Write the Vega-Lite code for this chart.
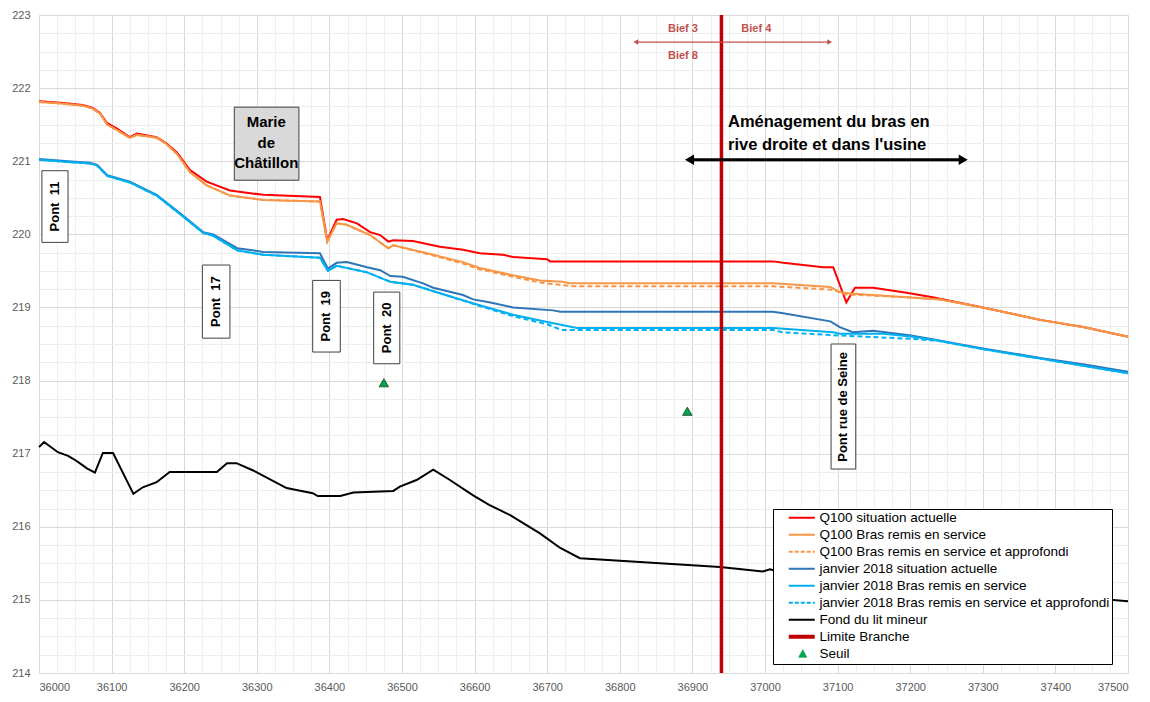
{
  "$schema": "https://vega.github.io/schema/vega-lite/v6.json",
  "width": 1089,
  "height": 658,
  "autosize": {"type": "none"},
  "padding": {"left": 39, "top": 15, "right": 22, "bottom": 29},
  "background": "white",
  "config": {"view": {"stroke": null}, "font": "Liberation Sans"},
  "layer": [
    {
      "data": {"values": [
        {"pk":36000,"z":221.82},{"pk":36030,"z":221.8},{"pk":36060,"z":221.77},{"pk":36074,"z":221.73},{"pk":36084,"z":221.66},{"pk":36094,"z":221.52},{"pk":36107,"z":221.45},{"pk":36125,"z":221.33},{"pk":36135,"z":221.38},{"pk":36162,"z":221.33},{"pk":36175,"z":221.25},{"pk":36190,"z":221.12},{"pk":36208,"z":220.88},{"pk":36231,"z":220.72},{"pk":36263,"z":220.6},{"pk":36309,"z":220.54},{"pk":36387,"z":220.51},{"pk":36397,"z":219.92},{"pk":36410,"z":220.2},{"pk":36419,"z":220.21},{"pk":36438,"z":220.15},{"pk":36456,"z":220.03},{"pk":36470,"z":219.99},{"pk":36481,"z":219.9},{"pk":36488,"z":219.92},{"pk":36515,"z":219.91},{"pk":36552,"z":219.83},{"pk":36584,"z":219.79},{"pk":36607,"z":219.74},{"pk":36639,"z":219.72},{"pk":36653,"z":219.69},{"pk":36700,"z":219.66},{"pk":36704,"z":219.63},{"pk":37011,"z":219.63},{"pk":37025,"z":219.61},{"pk":37080,"z":219.55},{"pk":37094,"z":219.55},{"pk":37112,"z":219.07},{"pk":37124,"z":219.27},{"pk":37149,"z":219.27},{"pk":37195,"z":219.2},{"pk":37231,"z":219.14},{"pk":37300,"z":219.0},{"pk":37379,"z":218.83},{"pk":37440,"z":218.73},{"pk":37500,"z":218.6}
      ]},
      "mark": {"type": "line", "strokeWidth": 2},
      "encoding": {
        "x": {"field": "pk", "type": "quantitative", "scale": {"domain": [36000, 37500], "nice": false, "zero": false},
          "axis": {"orient": "bottom", "values": [36000,36025,36050,36075,36100,36125,36150,36175,36200,36225,36250,36275,36300,36325,36350,36375,36400,36425,36450,36475,36500,36525,36550,36575,36600,36625,36650,36675,36700,36725,36750,36775,36800,36825,36850,36875,36900,36925,36950,36975,37000,37025,37050,37075,37100,37125,37150,37175,37200,37225,37250,37275,37300,37325,37350,37375,37400,37425,37450,37475,37500],
            "grid": true, "gridColor": "#eeeeee", "gridWidth": 1, "labels": false, "ticks": false, "domain": false, "title": null}},
        "y": {"field": "z", "type": "quantitative", "scale": {"domain": [214, 223], "nice": false, "zero": false},
          "axis": {"orient": "left", "values": [214,214.25,214.5,214.75,215,215.25,215.5,215.75,216,216.25,216.5,216.75,217,217.25,217.5,217.75,218,218.25,218.5,218.75,219,219.25,219.5,219.75,220,220.25,220.5,220.75,221,221.25,221.5,221.75,222,222.25,222.5,222.75,223],
            "grid": true, "gridColor": "#eeeeee", "gridWidth": 1, "labels": false, "ticks": false, "domain": false, "title": null}},
        "color": {"datum": "Q100 situation actuelle", "type": "nominal",
          "scale": {
            "domain": ["Q100 situation actuelle","Q100 Bras remis en service","Q100 Bras remis en service et approfondi","janvier 2018 situation actuelle","janvier 2018 Bras remis en service","janvier 2018 Bras remis en service et approfondi","Fond du lit mineur","Limite Branche","Seuil"],
            "range": ["#ff0000","#f79646","#f79646","#2e75b6","#00b0f0","#00b0f0","#000000","#c00000","#00a651"]
          },
          "legend": {
            "orient": "none", "legendX": 734, "legendY": 494, "title": null,
            "symbolType": "M1.4,-1.3M1.4,1.3M1.4,0H6.6", "symbolSize": 100, "symbolStrokeWidth": 2,
            "labelFont": "Liberation Sans", "labelFontSize": 13.5, "labelColor": "#000000", "labelOffset": 31, "labelLimit": 500,
            "rowPadding": 1, "padding": 2, "strokeColor": "#000000", "fillColor": "#ffffff",
            "encode": {"symbols": {"update": {
              "shape": {"signal": "datum.value === 'Seuil' ? 'M4.2,-1.54M4.2,1.54M4.2,-0.8L5.0,0.7L3.4,0.7Z' : (datum.value === 'Limite Branche' ? 'M1.4,-0.9M1.4,0.9M1.4,0H6.6' : 'M1.4,-1.3M1.4,1.3M1.4,0H6.6')"},
              "strokeDash": {"signal": "indexof(datum.value, 'approfondi') >= 0 ? [4,2] : [1,0]"},
              "strokeWidth": {"signal": "datum.value === 'Limite Branche' ? 4 : (datum.value === 'Seuil' ? 0.8 : 2)"},
              "strokeJoin": {"value": "round"},
              "fill": {"signal": "datum.value === 'Seuil' ? '#00a651' : 'transparent'"},
              "stroke": {"signal": "datum.value === 'Seuil' ? '#1a3d1a' : scale('color', datum.value)"},
              "opacity": {"value": 1}
            }}}
          }
        }
      }
    },
    {
      "data": {"values": [
        {"pk":36000,"z":221.81},{"pk":36030,"z":221.79},{"pk":36060,"z":221.76},{"pk":36074,"z":221.72},{"pk":36084,"z":221.65},{"pk":36094,"z":221.5},{"pk":36107,"z":221.43},{"pk":36125,"z":221.32},{"pk":36135,"z":221.36},{"pk":36162,"z":221.32},{"pk":36175,"z":221.24},{"pk":36190,"z":221.1},{"pk":36208,"z":220.85},{"pk":36231,"z":220.67},{"pk":36263,"z":220.53},{"pk":36309,"z":220.47},{"pk":36387,"z":220.45},{"pk":36397,"z":219.9},{"pk":36410,"z":220.15},{"pk":36424,"z":220.13},{"pk":36456,"z":219.99},{"pk":36481,"z":219.81},{"pk":36488,"z":219.85},{"pk":36539,"z":219.73},{"pk":36584,"z":219.62},{"pk":36607,"z":219.54},{"pk":36653,"z":219.44},{"pk":36690,"z":219.37},{"pk":36721,"z":219.35},{"pk":36731,"z":219.33},{"pk":37011,"z":219.33},{"pk":37090,"z":219.28},{"pk":37103,"z":219.21},{"pk":37117,"z":219.19},{"pk":37195,"z":219.14},{"pk":37241,"z":219.11},{"pk":37300,"z":219.0},{"pk":37379,"z":218.83},{"pk":37440,"z":218.73},{"pk":37500,"z":218.6}
      ]},
      "mark": {"type": "line", "strokeWidth": 2},
      "encoding": {
        "x": {"field": "pk", "type": "quantitative", "scale": {"domain": [36000, 37500], "nice": false, "zero": false},
          "axis": {"orient": "bottom", "values": [36000,36100,36200,36300,36400,36500,36600,36700,36800,36900,37000,37100,37200,37300,37400,37500],
            "format": "d", "grid": true, "gridColor": "#d9d9d9", "gridWidth": 1, "ticks": false, "domain": false, "title": null,
            "labelFont": "Liberation Sans", "labelFontSize": 11, "labelColor": "#595959", "labelPadding": 8}},
        "y": {"field": "z", "type": "quantitative", "scale": {"domain": [214, 223], "nice": false, "zero": false},
          "axis": {"orient": "left", "values": [214,215,216,217,218,219,220,221,222,223],
            "format": "d", "grid": true, "gridColor": "#d9d9d9", "gridWidth": 1, "ticks": false, "domain": false, "title": null,
            "labelFont": "Liberation Sans", "labelFontSize": 11, "labelColor": "#595959", "labelPadding": 9}},
        "color": {"datum": "Q100 Bras remis en service", "type": "nominal"}
      }
    },
    {
      "data": {"values": [
        {"pk":36000,"z":221.81},{"pk":36030,"z":221.79},{"pk":36060,"z":221.76},{"pk":36074,"z":221.72},{"pk":36084,"z":221.65},{"pk":36094,"z":221.5},{"pk":36107,"z":221.43},{"pk":36125,"z":221.32},{"pk":36135,"z":221.36},{"pk":36162,"z":221.32},{"pk":36175,"z":221.24},{"pk":36190,"z":221.1},{"pk":36208,"z":220.85},{"pk":36231,"z":220.67},{"pk":36263,"z":220.53},{"pk":36309,"z":220.47},{"pk":36387,"z":220.45},{"pk":36397,"z":219.9},{"pk":36410,"z":220.15},{"pk":36424,"z":220.13},{"pk":36456,"z":219.99},{"pk":36481,"z":219.81},{"pk":36488,"z":219.85},{"pk":36539,"z":219.72},{"pk":36584,"z":219.6},{"pk":36607,"z":219.52},{"pk":36653,"z":219.42},{"pk":36690,"z":219.34},{"pk":36735,"z":219.29},{"pk":37011,"z":219.29},{"pk":37094,"z":219.24},{"pk":37110,"z":219.18},{"pk":37195,"z":219.14},{"pk":37241,"z":219.11},{"pk":37300,"z":219.0},{"pk":37379,"z":218.83},{"pk":37440,"z":218.73},{"pk":37500,"z":218.6}
      ]},
      "mark": {"type": "line", "strokeWidth": 2, "strokeDash": [5, 3]},
      "encoding": {
        "x": {"field": "pk", "type": "quantitative", "scale": {"domain": [36000, 37500], "nice": false, "zero": false}, "axis": null},
        "y": {"field": "z", "type": "quantitative", "scale": {"domain": [214, 223], "nice": false, "zero": false}, "axis": null},
        "color": {"datum": "Q100 Bras remis en service et approfondi", "type": "nominal"}
      }
    },
    {
      "data": {"values": [
        {"pk":36000,"z":221.03},{"pk":36040,"z":221.0},{"pk":36070,"z":220.98},{"pk":36080,"z":220.95},{"pk":36094,"z":220.81},{"pk":36125,"z":220.72},{"pk":36162,"z":220.54},{"pk":36194,"z":220.29},{"pk":36226,"z":220.03},{"pk":36240,"z":220.0},{"pk":36273,"z":219.81},{"pk":36309,"z":219.76},{"pk":36387,"z":219.74},{"pk":36398,"z":219.53},{"pk":36410,"z":219.61},{"pk":36424,"z":219.62},{"pk":36452,"z":219.55},{"pk":36470,"z":219.51},{"pk":36484,"z":219.43},{"pk":36501,"z":219.42},{"pk":36529,"z":219.33},{"pk":36543,"z":219.27},{"pk":36584,"z":219.17},{"pk":36598,"z":219.11},{"pk":36620,"z":219.07},{"pk":36653,"z":219.0},{"pk":36708,"z":218.96},{"pk":36718,"z":218.94},{"pk":37011,"z":218.94},{"pk":37025,"z":218.92},{"pk":37090,"z":218.81},{"pk":37103,"z":218.73},{"pk":37121,"z":218.66},{"pk":37149,"z":218.68},{"pk":37199,"z":218.62},{"pk":37223,"z":218.58},{"pk":37300,"z":218.44},{"pk":37379,"z":218.31},{"pk":37440,"z":218.22},{"pk":37500,"z":218.12}
      ]},
      "mark": {"type": "line", "strokeWidth": 2},
      "encoding": {
        "x": {"field": "pk", "type": "quantitative", "scale": {"domain": [36000, 37500], "nice": false, "zero": false}, "axis": null},
        "y": {"field": "z", "type": "quantitative", "scale": {"domain": [214, 223], "nice": false, "zero": false}, "axis": null},
        "color": {"datum": "janvier 2018 situation actuelle", "type": "nominal"}
      }
    },
    {
      "data": {"values": [
        {"pk":36000,"z":221.02},{"pk":36040,"z":220.99},{"pk":36070,"z":220.97},{"pk":36080,"z":220.94},{"pk":36094,"z":220.8},{"pk":36125,"z":220.71},{"pk":36162,"z":220.53},{"pk":36194,"z":220.28},{"pk":36226,"z":220.02},{"pk":36240,"z":219.98},{"pk":36273,"z":219.78},{"pk":36309,"z":219.72},{"pk":36387,"z":219.68},{"pk":36398,"z":219.5},{"pk":36410,"z":219.57},{"pk":36452,"z":219.48},{"pk":36484,"z":219.35},{"pk":36515,"z":219.31},{"pk":36560,"z":219.17},{"pk":36607,"z":219.03},{"pk":36653,"z":218.9},{"pk":36700,"z":218.8},{"pk":36741,"z":218.72},{"pk":37011,"z":218.72},{"pk":37094,"z":218.66},{"pk":37103,"z":218.64},{"pk":37163,"z":218.64},{"pk":37204,"z":218.6},{"pk":37241,"z":218.54},{"pk":37300,"z":218.43},{"pk":37379,"z":218.3},{"pk":37440,"z":218.2},{"pk":37500,"z":218.1}
      ]},
      "mark": {"type": "line", "strokeWidth": 2},
      "encoding": {
        "x": {"field": "pk", "type": "quantitative", "scale": {"domain": [36000, 37500], "nice": false, "zero": false}, "axis": null},
        "y": {"field": "z", "type": "quantitative", "scale": {"domain": [214, 223], "nice": false, "zero": false}, "axis": null},
        "color": {"datum": "janvier 2018 Bras remis en service", "type": "nominal"}
      }
    },
    {
      "data": {"values": [
        {"pk":36000,"z":221.02},{"pk":36040,"z":220.99},{"pk":36070,"z":220.97},{"pk":36080,"z":220.94},{"pk":36094,"z":220.8},{"pk":36125,"z":220.71},{"pk":36162,"z":220.53},{"pk":36194,"z":220.28},{"pk":36226,"z":220.02},{"pk":36240,"z":219.98},{"pk":36273,"z":219.78},{"pk":36309,"z":219.72},{"pk":36387,"z":219.68},{"pk":36398,"z":219.5},{"pk":36410,"z":219.57},{"pk":36452,"z":219.48},{"pk":36484,"z":219.35},{"pk":36515,"z":219.31},{"pk":36560,"z":219.17},{"pk":36607,"z":219.02},{"pk":36653,"z":218.88},{"pk":36700,"z":218.77},{"pk":36720,"z":218.69},{"pk":37011,"z":218.69},{"pk":37025,"z":218.66},{"pk":37094,"z":218.62},{"pk":37204,"z":218.57},{"pk":37241,"z":218.54},{"pk":37300,"z":218.43},{"pk":37379,"z":218.3},{"pk":37440,"z":218.2},{"pk":37500,"z":218.1}
      ]},
      "mark": {"type": "line", "strokeWidth": 2, "strokeDash": [5, 3]},
      "encoding": {
        "x": {"field": "pk", "type": "quantitative", "scale": {"domain": [36000, 37500], "nice": false, "zero": false}, "axis": null},
        "y": {"field": "z", "type": "quantitative", "scale": {"domain": [214, 223], "nice": false, "zero": false}, "axis": null},
        "color": {"datum": "janvier 2018 Bras remis en service et approfondi", "type": "nominal"}
      }
    },
    {
      "data": {"values": [
        {"pk":36000,"z":217.09},{"pk":36007,"z":217.16},{"pk":36026,"z":217.02},{"pk":36040,"z":216.97},{"pk":36047,"z":216.93},{"pk":36056,"z":216.87},{"pk":36066,"z":216.8},{"pk":36077,"z":216.74},{"pk":36088,"z":217.01},{"pk":36102,"z":217.01},{"pk":36130,"z":216.45},{"pk":36143,"z":216.54},{"pk":36162,"z":216.61},{"pk":36180,"z":216.75},{"pk":36245,"z":216.75},{"pk":36259,"z":216.87},{"pk":36272,"z":216.87},{"pk":36295,"z":216.77},{"pk":36341,"z":216.53},{"pk":36377,"z":216.46},{"pk":36384,"z":216.42},{"pk":36415,"z":216.42},{"pk":36433,"z":216.47},{"pk":36488,"z":216.49},{"pk":36497,"z":216.55},{"pk":36520,"z":216.64},{"pk":36543,"z":216.78},{"pk":36566,"z":216.64},{"pk":36598,"z":216.43},{"pk":36620,"z":216.3},{"pk":36649,"z":216.16},{"pk":36690,"z":215.91},{"pk":36718,"z":215.71},{"pk":36745,"z":215.57},{"pk":36938,"z":215.45},{"pk":36997,"z":215.39},{"pk":37007,"z":215.42},{"pk":37020,"z":215.38},{"pk":37500,"z":214.98}
      ]},
      "mark": {"type": "line", "strokeWidth": 2},
      "encoding": {
        "x": {"field": "pk", "type": "quantitative", "scale": {"domain": [36000, 37500], "nice": false, "zero": false}, "axis": null},
        "y": {"field": "z", "type": "quantitative", "scale": {"domain": [214, 223], "nice": false, "zero": false}, "axis": null},
        "color": {"datum": "Fond du lit mineur", "type": "nominal"}
      }
    },
    {
      "data": {"values": [{"pk": 36940}]},
      "mark": {"type": "rule", "strokeWidth": 3.5},
      "encoding": {
        "x": {"field": "pk", "type": "quantitative", "scale": {"domain": [36000, 37500], "nice": false, "zero": false}, "axis": null},
        "color": {"datum": "Limite Branche", "type": "nominal"}
      }
    },
    {
      "data": {"values": [{"pk": 36475, "z": 217.97}, {"pk": 36893, "z": 217.58}]},
      "mark": {"type": "point", "shape": "triangle-up", "filled": true, "size": 90, "stroke": "#1a3d1a", "strokeWidth": 0.8, "opacity": 1},
      "encoding": {
        "x": {"field": "pk", "type": "quantitative", "scale": {"domain": [36000, 37500], "nice": false, "zero": false}, "axis": null},
        "y": {"field": "z", "type": "quantitative", "scale": {"domain": [214, 223], "nice": false, "zero": false}, "axis": null},
        "color": {"datum": "Seuil", "type": "nominal"}
      }
    },
    {
      "data": {"values": [{"pk": 36822, "z": 222.63}, {"pk": 37089, "z": 222.63}]},
      "mark": {"type": "line", "strokeWidth": 1.2, "color": "#c0504d"},
      "encoding": {
        "x": {"field": "pk", "type": "quantitative", "scale": {"domain": [36000, 37500], "nice": false, "zero": false}, "axis": null},
        "y": {"field": "z", "type": "quantitative", "scale": {"domain": [214, 223], "nice": false, "zero": false}, "axis": null}
      }
    },
    {
      "data": {"values": [{"pk": 36822, "z": 222.63, "d": "l"}, {"pk": 37089, "z": 222.63, "d": "r"}]},
      "mark": {"type": "point", "filled": true, "size": 30, "color": "#c0504d", "opacity": 1},
      "encoding": {
        "x": {"field": "pk", "type": "quantitative", "scale": {"domain": [36000, 37500], "nice": false, "zero": false}, "axis": null},
        "y": {"field": "z", "type": "quantitative", "scale": {"domain": [214, 223], "nice": false, "zero": false}, "axis": null},
        "shape": {"field": "d", "type": "nominal", "scale": {"domain": ["l", "r"], "range": ["triangle-left", "triangle-right"]}, "legend": null}
      }
    },
    {
      "data": {"values": [{"pk": 36895, "z": 221.02}, {"pk": 37274, "z": 221.02}]},
      "mark": {"type": "line", "strokeWidth": 3, "color": "#000000"},
      "encoding": {
        "x": {"field": "pk", "type": "quantitative", "scale": {"domain": [36000, 37500], "nice": false, "zero": false}, "axis": null},
        "y": {"field": "z", "type": "quantitative", "scale": {"domain": [214, 223], "nice": false, "zero": false}, "axis": null}
      }
    },
    {
      "data": {"values": [{"pk": 36896, "z": 221.02, "d": "l"}, {"pk": 37273, "z": 221.02, "d": "r"}]},
      "mark": {"type": "point", "filled": true, "size": 110, "color": "#000000", "opacity": 1},
      "encoding": {
        "x": {"field": "pk", "type": "quantitative", "scale": {"domain": [36000, 37500], "nice": false, "zero": false}, "axis": null},
        "y": {"field": "z", "type": "quantitative", "scale": {"domain": [214, 223], "nice": false, "zero": false}, "axis": null},
        "shape": {"field": "d", "type": "nominal", "scale": {"domain": ["l", "r"], "range": ["triangle-left", "triangle-right"]}, "legend": null}
      }
    },
    {
      "data": {"values": [
        {"pk": 36004, "pk2": 36040, "z": 220.87, "z2": 219.89},
        {"pk": 36225, "pk2": 36263, "z": 219.58, "z2": 218.58},
        {"pk": 36377, "pk2": 36415, "z": 219.37, "z2": 218.39},
        {"pk": 36461, "pk2": 36497, "z": 219.21, "z2": 218.23},
        {"pk": 37091, "pk2": 37125, "z": 218.5, "z2": 216.79}
      ]},
      "mark": {"type": "rect", "fill": "#ffffff", "stroke": "#404040", "strokeWidth": 1},
      "encoding": {
        "x": {"field": "pk", "type": "quantitative", "scale": {"domain": [36000, 37500], "nice": false, "zero": false}, "axis": null},
        "x2": {"field": "pk2"},
        "y": {"field": "z", "type": "quantitative", "scale": {"domain": [214, 223], "nice": false, "zero": false}, "axis": null},
        "y2": {"field": "z2"}
      }
    },
    {
      "data": {"values": [{"pk": 36269, "pk2": 36358, "z": 221.74, "z2": 220.74}]},
      "mark": {"type": "rect", "fill": "#d9d9d9", "stroke": "#404040", "strokeWidth": 1},
      "encoding": {
        "x": {"field": "pk", "type": "quantitative", "scale": {"domain": [36000, 37500], "nice": false, "zero": false}, "axis": null},
        "x2": {"field": "pk2"},
        "y": {"field": "z", "type": "quantitative", "scale": {"domain": [214, 223], "nice": false, "zero": false}, "axis": null},
        "y2": {"field": "z2"}
      }
    },
    {
      "data": {"values": [
        {"t": "Bief 3", "pk": 36887, "z": 222.81},
        {"t": "Bief 4", "pk": 36988, "z": 222.81},
        {"t": "Bief 8", "pk": 36887, "z": 222.44}
      ]},
      "mark": {"type": "text", "font": "Liberation Sans", "fontSize": 11, "fontWeight": "bold", "color": "#c0504d", "align": "center", "baseline": "middle"},
      "encoding": {
        "x": {"field": "pk", "type": "quantitative", "scale": {"domain": [36000, 37500], "nice": false, "zero": false}, "axis": null},
        "y": {"field": "z", "type": "quantitative", "scale": {"domain": [214, 223], "nice": false, "zero": false}, "axis": null},
        "text": {"field": "t"}
      }
    },
    {
      "data": {"values": [
        {"t": "Aménagement du bras en", "pk": 36949, "z": 221.54},
        {"t": "rive droite et dans l'usine", "pk": 36949, "z": 221.22}
      ]},
      "mark": {"type": "text", "font": "Liberation Sans", "fontSize": 16.5, "fontWeight": "bold", "color": "#000000", "align": "left", "baseline": "middle"},
      "encoding": {
        "x": {"field": "pk", "type": "quantitative", "scale": {"domain": [36000, 37500], "nice": false, "zero": false}, "axis": null},
        "y": {"field": "z", "type": "quantitative", "scale": {"domain": [214, 223], "nice": false, "zero": false}, "axis": null},
        "text": {"field": "t"}
      }
    },
    {
      "data": {"values": [
        {"t": "Marie", "pk": 36313, "z": 221.54},
        {"t": "de", "pk": 36313, "z": 221.25},
        {"t": "Châtillon", "pk": 36313, "z": 220.98}
      ]},
      "mark": {"type": "text", "font": "Liberation Sans", "fontSize": 15, "fontWeight": "bold", "color": "#000000", "align": "center", "baseline": "middle"},
      "encoding": {
        "x": {"field": "pk", "type": "quantitative", "scale": {"domain": [36000, 37500], "nice": false, "zero": false}, "axis": null},
        "y": {"field": "z", "type": "quantitative", "scale": {"domain": [214, 223], "nice": false, "zero": false}, "axis": null},
        "text": {"field": "t"}
      }
    },
    {
      "data": {"values": [
        {"t": "Pont\u00a0 11", "pk": 36022, "z": 220.38},
        {"t": "Pont\u00a0 17", "pk": 36244, "z": 219.08},
        {"t": "Pont\u00a0 19", "pk": 36396, "z": 218.88},
        {"t": "Pont\u00a0 20", "pk": 36479, "z": 218.72},
        {"t": "Pont rue de Seine", "pk": 37108, "z": 217.64}
      ]},
      "mark": {"type": "text", "font": "Liberation Sans", "fontSize": 13, "fontWeight": 600, "color": "#000000", "align": "center", "baseline": "middle", "angle": 270},
      "encoding": {
        "x": {"field": "pk", "type": "quantitative", "scale": {"domain": [36000, 37500], "nice": false, "zero": false}, "axis": null},
        "y": {"field": "z", "type": "quantitative", "scale": {"domain": [214, 223], "nice": false, "zero": false}, "axis": null},
        "text": {"field": "t"}
      }
    }
  ],
  "resolve": {"axis": {"x": "independent", "y": "independent"}}
}
